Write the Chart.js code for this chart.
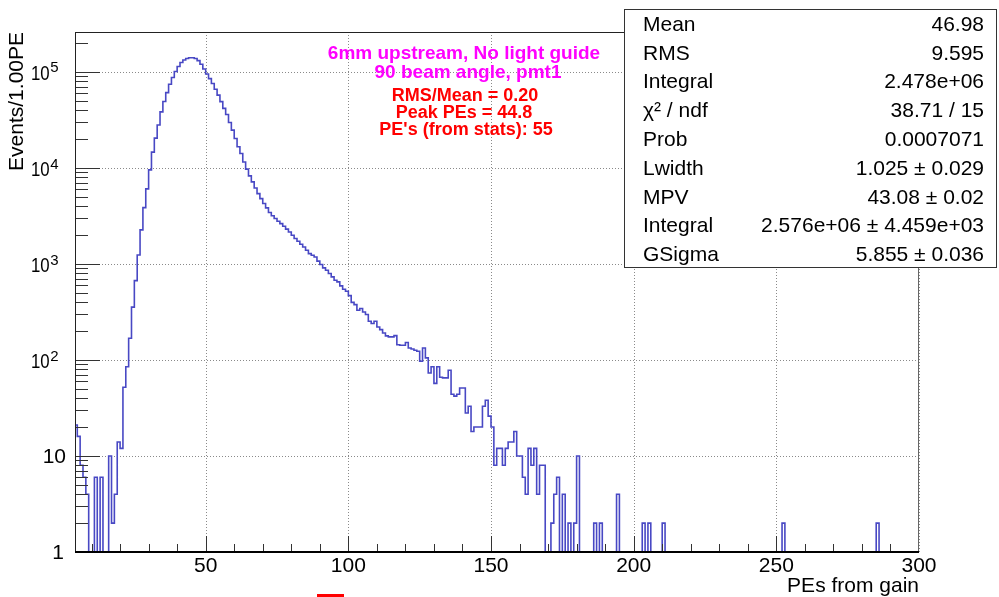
<!DOCTYPE html>
<html>
<head>
<meta charset="utf-8">
<script src="https://cdn.jsdelivr.net/npm/chart.js@4.4.1/dist/chart.umd.min.js"></script>
<style>
  html, body { margin: 0; padding: 0; background: #fff; }
  #wrap { width: 999px; height: 597px; }
</style>
</head>
<body>
<div id="wrap"><canvas id="peChart" width="999" height="597"></canvas></div>
<script>
// Histogram: 1 PE wide bins, first bin starts at 4 PE
const binStart = 4;
const binWidth = 1;
const counts = [
  21, 16, 8, 6, 4, 0, 0, 6, 0, 6, 0, 0, 10, 2, 4, 14, 12, 52, 85, 168, 355,            // 4-24
  670, 1240, 2260, 3860, 6040, 9530, 14600, 20400, 28000, 38300,                      // 25-34
  49100, 60800, 74400, 87300, 100700, 113600, 125000, 133000, 137500, 140000,          // 35-44
  140000, 137500, 131000, 120000, 107000,                                              // 45-49
  95000, 85000, 75500, 66000, 57200, 49000, 41700, 36000, 29700, 24700,               // 50-59
  20200, 16600, 14100, 11500, 9700, 8260, 7150, 6170, 5400, 4790,                     // 60-69
  4260, 3830, 3430, 3170, 2970, 2780, 2630, 2470, 2300, 2150,                         // 70-79
  1990, 1840, 1720, 1600, 1500, 1390, 1280, 1230, 1180, 1070,                         // 80-89
  985, 910, 860, 795, 733, 677, 650, 590, 545, 520,                                   // 90-99
  467, 398, 377, 329, 343, 316, 297, 253, 240, 253,                                   // 100-109
  220, 207, 191, 178, 174, 174, 179, 144, 142, 142,                                   // 110-119
  152, 133, 130, 126, 123, 97, 133, 105, 73, 85,                                      // 120-129
  57, 85, 66, 65, 65, 78, 44, 42, 44, 51,                                             // 130-139
  51, 28, 33, 18, 20, 20, 20, 33, 38, 26,                                             // 140-149
  20, 8, 12, 12, 8, 12, 14, 14, 18, 10,                                               // 150-159
  10, 6, 4, 12, 8, 12, 4, 8, 8, 0,                                                    // 160-169
  0, 2, 4, 6, 0, 4, 0, 2, 0, 2,                                                       // 170-179
  10, 0, 0, 0, 0, 0, 2, 0, 2, 0,                                                      // 180-189
  0, 0, 0, 0, 4, 0, 0, 0, 0, 0,                                                       // 190-199
  0, 0, 0, 2, 0, 2, 0, 0, 0, 0,                                                       // 200-209
  2, 0, 0, 0, 0, 0, 0, 0, 0, 0,                                                       // 210-219
  0, 0, 0, 0, 0, 0, 0, 0, 0, 0,                                                       // 220-229
  0, 0, 0, 0, 0, 0, 0, 0, 0, 0,                                                       // 230-239
  0, 0, 0, 0, 0, 0, 0, 0, 0, 0,                                                       // 240-249
  0, 0, 2, 0, 0, 0, 0, 0, 0, 0,                                                       // 250-259
  0, 0, 0, 0, 0, 0, 0, 0, 0, 0,                                                       // 260-269
  0, 0, 0, 0, 0, 0, 0, 0, 0, 0,                                                       // 270-279
  0, 0, 0, 0, 0, 2, 0, 0, 0, 0,                                                       // 280-289
  0, 0, 0, 0, 0, 0, 0, 0, 0, 0                                                        // 290-299
];

const xMin = 4.2, xMax = 300;
const yMin = 1, yMax = 2.6e5;
const xTickValues = [50, 100, 150, 200, 250, 300];
const yDecades = [1, 10, 100, 1000, 10000, 100000];

const xTitle = 'PEs from gain';
const yTitle = 'Events/1.00PE';
const infoLines = ['6mm upstream, No light guide', '90 beam angle, pmt1'];
const fitLines = ['RMS/Mean = 0.20', 'Peak PEs = 44.8', "PE's (from stats): 55"];

const statsLabels = ['Mean', 'RMS', 'Integral', 'χ² / ndf', 'Prob', 'Lwidth', 'MPV', 'Integral', 'GSigma'];
const statsValues = ['46.98', '9.595', '2.478e+06', '38.71 / 15', '0.0007071',
  '1.025 ± 0.029', '43.08 ± 0.02', '2.576e+06 ± 4.459e+03', '5.855 ± 0.036'];

const FONT = "'Liberation Sans', Arial, Helvetica, sans-serif";

// step outline: each bin gives its left and right corner; empty bins sit on the axis
const points = [];
counts.forEach((v, i) => {
  const lo = binStart + i * binWidth;
  const y = Math.max(v, yMin);
  points.push({ x: lo, y: y }, { x: lo + binWidth, y: y });
});

function hline(c, x1, x2, y) { c.beginPath(); c.moveTo(x1, y); c.lineTo(x2, y); c.stroke(); }
function vline(c, x, y1, y2) { c.beginPath(); c.moveTo(x, y1); c.lineTo(x, y2); c.stroke(); }

const rootStyle = {
  id: 'rootStyle',
  beforeDraw(chart) {
    const c = chart.ctx;
    c.save();
    c.fillStyle = '#fff';
    c.fillRect(0, 0, chart.width, chart.height);
    c.restore();
  },
  beforeDatasetsDraw(chart) {
    const { ctx: c, chartArea: a, scales: { x, y } } = chart;
    c.save();
    c.strokeStyle = '#8a8a8a';
    c.lineWidth = 1;
    c.setLineDash([1, 2]);
    xTickValues.forEach(v => {
      const px = Math.round(x.getPixelForValue(v)) + 0.5;
      vline(c, px, a.top, a.bottom);
    });
    yDecades.slice(1).forEach(v => {
      const py = Math.round(y.getPixelForValue(v)) + 0.5;
      hline(c, a.left, a.right, py);
    });
    c.restore();
  },
  afterDatasetsDraw(chart) {
    const { ctx: c, chartArea: a, scales: { x, y } } = chart;
    c.save();

    // inner tick marks
    c.strokeStyle = '#333';
    c.lineWidth = 1;
    for (let v = 10; v < xMax; v += 10) {
      const px = Math.round(x.getPixelForValue(v)) + 0.5;
      const len = v % 50 === 0 ? 16 : 8;
      vline(c, px, a.bottom, a.bottom - len);
    }
    yDecades.forEach(d => {
      for (let m = 1; m <= 9; m++) {
        const v = m * d;
        if (v > yMax) break;
        const py = Math.round(y.getPixelForValue(v)) + 0.5;
        hline(c, a.left, a.left + (m === 1 ? 25 : 13), py);
      }
    });

    // frame
    c.strokeStyle = '#222';
    hline(c, a.left, a.right, a.top + 0.5);
    vline(c, a.left + 0.5, a.top, a.bottom);
    c.strokeStyle = '#666';
    vline(c, a.right - 0.5, a.top, a.bottom);
    c.strokeStyle = '#000';
    c.lineWidth = 2;
    hline(c, a.left, a.right, a.bottom);

    // x tick labels
    c.fillStyle = '#000';
    c.font = '21px ' + FONT;
    c.textAlign = 'center';
    c.textBaseline = 'middle';
    xTickValues.forEach(v => c.fillText(String(v), x.getPixelForValue(v), 566));

    // y tick labels, 10^n drawn with a raised exponent and a slightly narrow base
    yDecades.forEach((v, k) => {
      const py = y.getPixelForValue(v);
      c.textAlign = 'right';
      c.textBaseline = 'middle';
      if (k < 2) {
        c.font = '21px ' + FONT;
        c.fillText(String(v), k === 0 ? 64 : 66, py + 1.5);
      } else {
        c.font = '15px ' + FONT;
        const sup = String(k);
        const sw = c.measureText(sup).width;
        c.fillText(sup, 58.5, py - 3.5);
        c.font = '21px ' + FONT;
        c.save();
        c.translate(58 - sw, py + 2.5);
        c.scale(0.8, 1);
        c.fillText('10', 0, 0);
        c.restore();
      }
    });

    // axis titles
    c.font = '21px ' + FONT;
    c.textAlign = 'right';
    c.textBaseline = 'alphabetic';
    c.fillText(xTitle, a.right, 592);
    c.save();
    c.translate(23, a.top);
    c.rotate(-Math.PI / 2);
    c.fillText(yTitle, 0, 0);
    c.restore();

    // annotations
    c.textAlign = 'center';
    c.textBaseline = 'middle';
    c.font = 'bold 19px ' + FONT;
    c.fillStyle = '#ff00ff';
    c.fillText(infoLines[0], 464, 54);
    c.fillText(infoLines[1], 468, 73);
    c.font = 'bold 18px ' + FONT;
    c.fillStyle = '#ff0000';
    c.fillText(fitLines[0], 465, 96);
    c.fillText(fitLines[1], 464, 113.5);
    c.fillText(fitLines[2], 466, 130.5);

    // small red mark below the axis
    c.fillRect(317, 594, 27, 3);

    // stats box
    c.fillStyle = '#fff';
    c.fillRect(624, 9, 373, 259);
    c.strokeStyle = '#333';
    c.lineWidth = 1;
    c.strokeRect(624.5, 9.5, 372, 258);
    c.fillStyle = '#000';
    c.font = '21px ' + FONT;
    c.textBaseline = 'middle';
    statsLabels.forEach((lab, i) => {
      const ty = 25 + i * 28.8;
      c.textAlign = 'left';
      c.fillText(lab, 643, ty);
      c.textAlign = 'right';
      c.fillText(statsValues[i], 984, ty);
    });

    c.restore();
  }
};

new Chart(document.getElementById('peChart'), {
  type: 'line',
  data: {
    datasets: [{
      data: points,
      borderColor: '#4848c4',
      borderWidth: 1.6,
      pointRadius: 0,
      fill: false,
      tension: 0
    }]
  },
  options: {
    responsive: false,
    animation: false,
    layout: { padding: { top: 32, right: 80, left: 0, bottom: 0 } },
    plugins: { legend: { display: false }, tooltip: { enabled: false } },
    scales: {
      x: {
        type: 'linear', min: xMin, max: xMax,
        ticks: { display: false }, grid: { display: false }, border: { display: false },
        afterFit: s => { s.height = 45; }
      },
      y: {
        type: 'logarithmic', min: yMin, max: yMax,
        ticks: { display: false }, grid: { display: false }, border: { display: false },
        afterFit: s => { s.width = 75; }
      }
    }
  },
  plugins: [rootStyle]
});
</script>
</body>
</html>
